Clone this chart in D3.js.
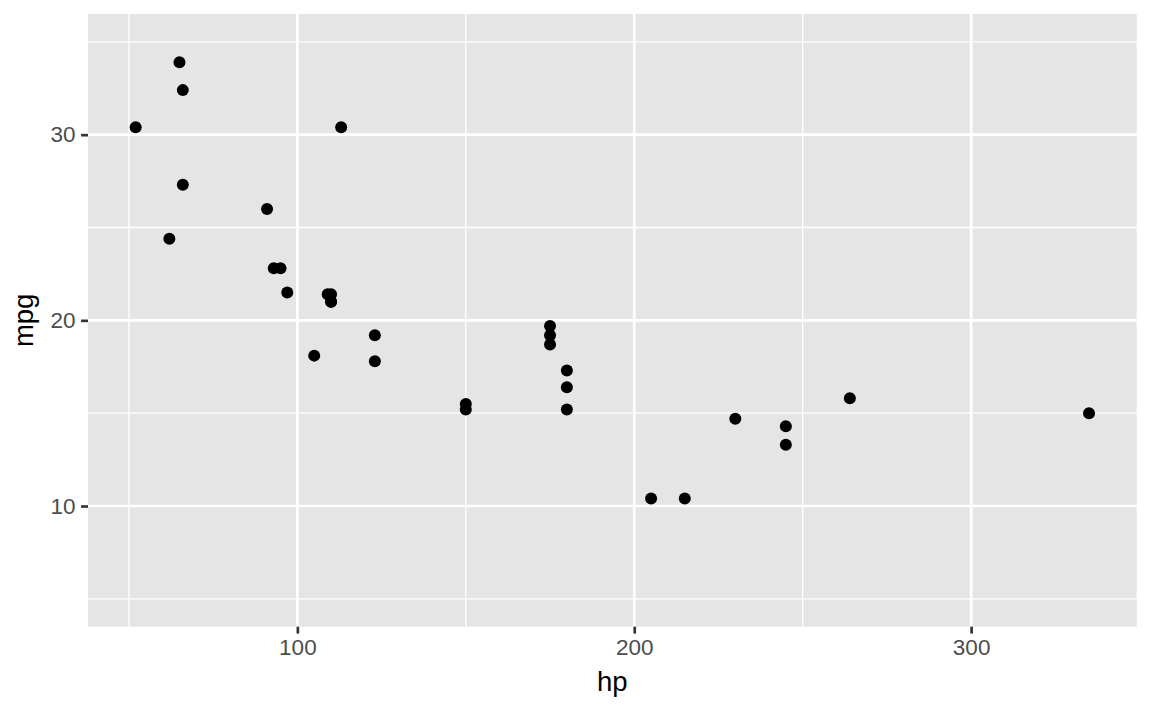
<!DOCTYPE html>
<html>
<head>
<meta charset="utf-8">
<script src="https://cdn.jsdelivr.net/npm/d3@7"></script>
<style>
  html, body { margin: 0; padding: 0; background: #fff; }
  svg { display: block; font-family: "Liberation Sans", Arial, Helvetica, sans-serif; }
</style>
</head>
<body>
<svg id="chart" width="1152" height="711"></svg>
<script>
// mtcars: horsepower and miles per gallon
const hp  = [110,110,93,110,175,105,245,62,95,123,123,180,180,180,205,215,230,66,52,65,97,150,150,245,175,66,91,113,264,175,335,109];
const mpg = [21.0,21.0,22.8,21.4,18.7,18.1,14.3,24.4,22.8,19.2,17.8,16.4,17.3,15.2,10.4,10.4,14.7,32.4,30.4,33.9,21.5,15.5,15.2,13.3,19.2,27.3,26.0,30.4,15.8,19.7,15.0,21.4];
const xMajor = [100, 200, 300];
const xMinor = [50, 150, 250];
const yMajor = [10, 20, 30];
const yMinor = [5, 15, 25, 35];
const yLimits = [5, 35];

const svg = d3.select("#chart");
const pLeft = 88, pRight = 1136.7, pTop = 14, pBottom = 626.7;

const xr = d3.extent(hp);
const xpad = (xr[1] - xr[0]) * 0.05;
const x = d3.scaleLinear().domain([xr[0] - xpad, xr[1] + xpad]).range([pLeft, pRight]);
const ypad = (yLimits[1] - yLimits[0]) * 0.05;
const y = d3.scaleLinear().domain([yLimits[0] - ypad, yLimits[1] + ypad]).range([pBottom, pTop]);

svg.append("rect").attr("x", pLeft).attr("y", pTop)
  .attr("width", pRight - pLeft).attr("height", pBottom - pTop).attr("fill", "#e5e5e5");

const grid = svg.append("g");
grid.selectAll(".xmin").data(xMinor).enter().append("line")
  .attr("x1", d => x(d)).attr("x2", d => x(d)).attr("y1", pTop).attr("y2", pBottom)
  .attr("stroke", "#fff").attr("stroke-width", 1.33);
grid.selectAll(".ymin").data(yMinor).enter().append("line")
  .attr("y1", d => y(d)).attr("y2", d => y(d)).attr("x1", pLeft).attr("x2", pRight)
  .attr("stroke", "#fff").attr("stroke-width", 1.33);
grid.selectAll(".xmaj").data(xMajor).enter().append("line")
  .attr("x1", d => x(d)).attr("x2", d => x(d)).attr("y1", pTop).attr("y2", pBottom)
  .attr("stroke", "#fff").attr("stroke-width", 2.67);
grid.selectAll(".ymaj").data(yMajor).enter().append("line")
  .attr("y1", d => y(d)).attr("y2", d => y(d)).attr("x1", pLeft).attr("x2", pRight)
  .attr("stroke", "#fff").attr("stroke-width", 2.67);

// axes
const xAxis = d3.axisBottom(x).tickValues(xMajor).tickSize(6.9).tickPadding(5.5).tickFormat(d3.format("d"));
const gx = svg.append("g").attr("transform", `translate(0,${pBottom})`).call(xAxis);
gx.select(".domain").remove();
gx.selectAll(".tick line").attr("stroke", "#333333").attr("stroke-width", 2.67);
gx.selectAll(".tick text").attr("fill", "#4d4d4d").attr("font-size", 22.5).attr("font-family", null);

const yAxis = d3.axisLeft(y).tickValues(yMajor).tickSize(6.9).tickPadding(5.5).tickFormat(d3.format("d"));
const gy = svg.append("g").attr("transform", `translate(${pLeft},0)`).call(yAxis);
gy.select(".domain").remove();
gy.selectAll(".tick line").attr("stroke", "#333333").attr("stroke-width", 2.67);
gy.selectAll(".tick text").attr("fill", "#4d4d4d").attr("font-size", 22.5).attr("font-family", null);

// points
const pts = hp.map((h, i) => ({ h, m: mpg[i] }));
svg.append("g").selectAll("circle").data(pts).enter().append("circle")
  .attr("cx", d => x(d.h)).attr("cy", d => y(d.m)).attr("r", 6).attr("fill", "#000");

// titles
svg.append("text").attr("x", (pLeft + pRight) / 2).attr("y", 691)
  .attr("text-anchor", "middle").attr("font-size", 27.5).attr("fill", "#000").text("hp");
svg.append("text").attr("transform", `translate(33,${(pTop + pBottom) / 2}) rotate(-90)`)
  .attr("text-anchor", "middle").attr("font-size", 27.5).attr("fill", "#000").text("mpg");
</script>
</body>
</html>
